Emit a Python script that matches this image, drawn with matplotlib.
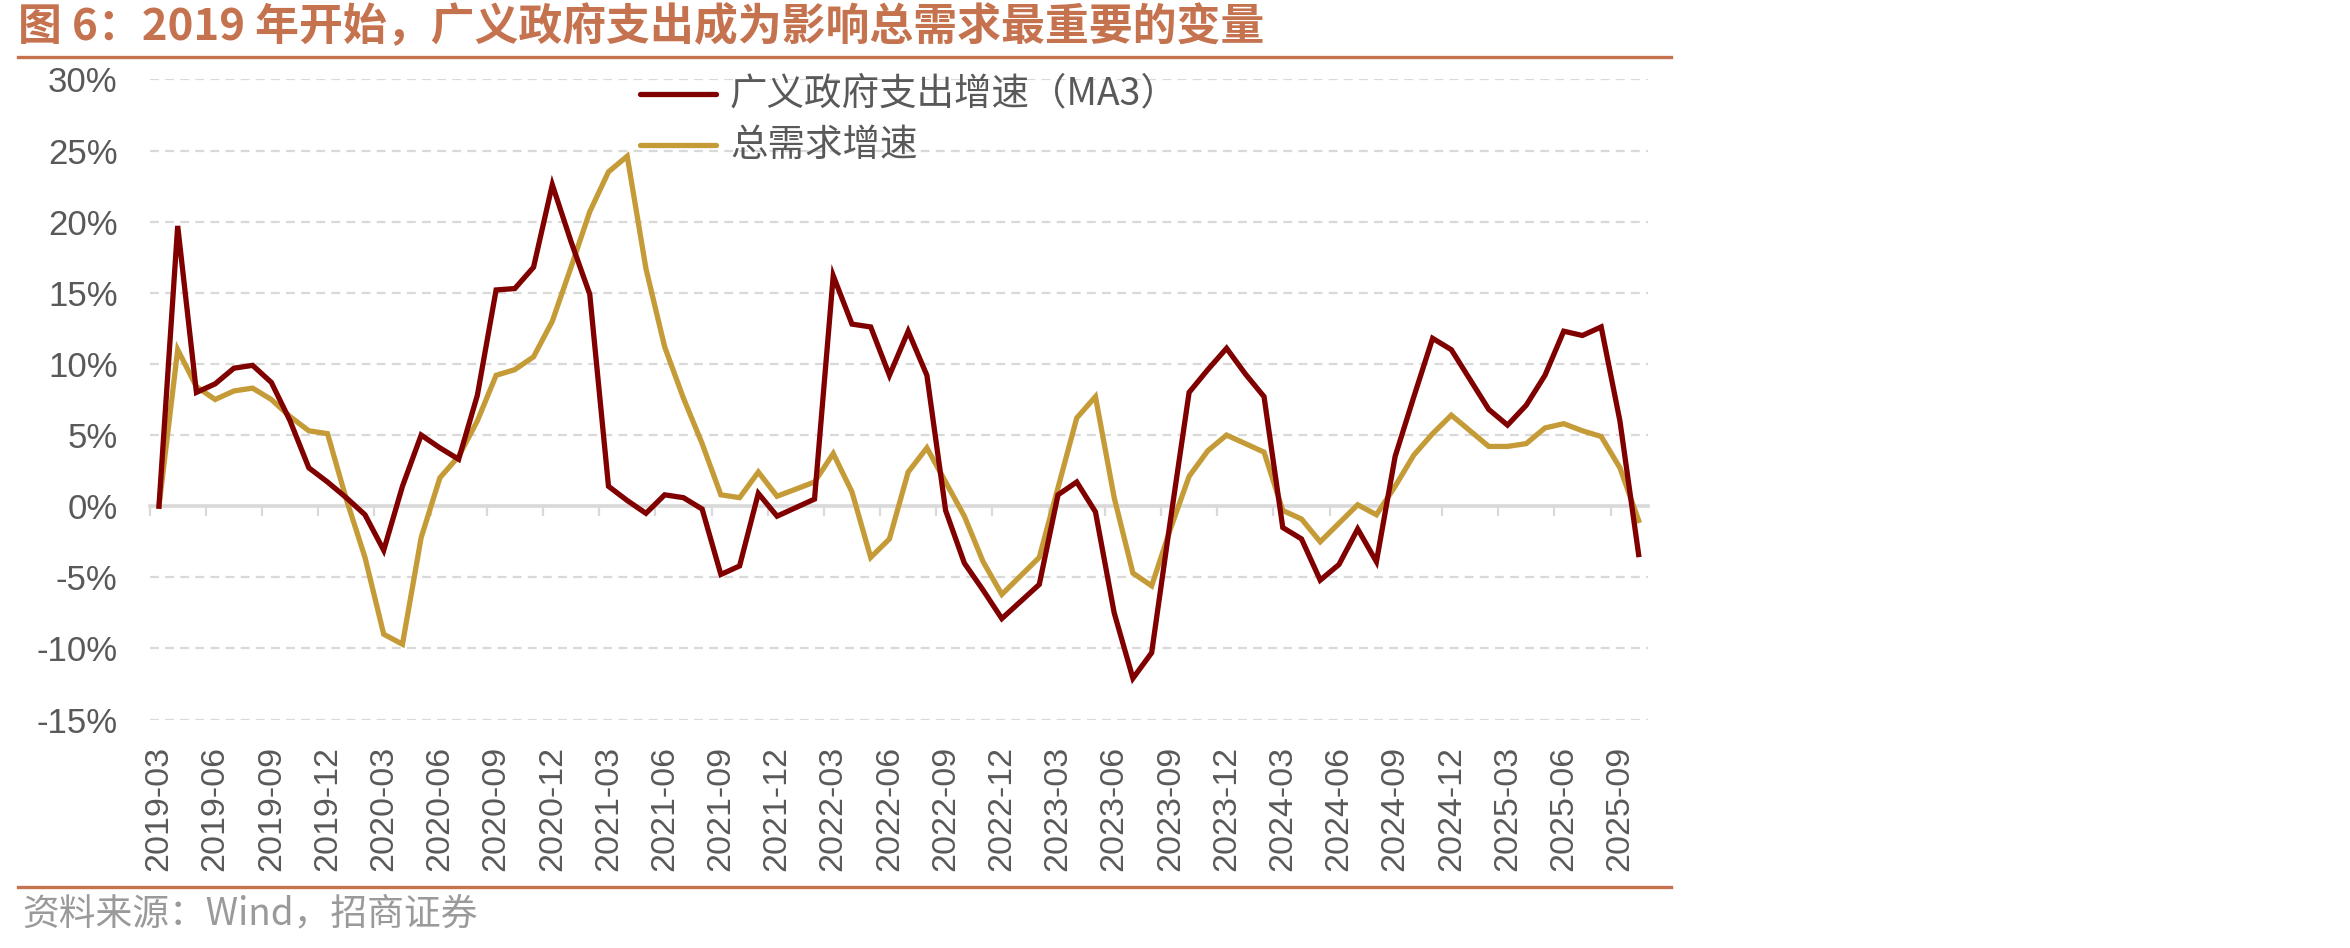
import matplotlib
matplotlib.use("Agg")
import matplotlib.pyplot as plt
from matplotlib.lines import Line2D
import pandas as pd

plt.rcParams['font.family'] = ['Liberation Sans', 'Noto Sans CJK SC', 'DejaVu Sans']

# ---------------- data ----------------
months = pd.date_range('2019-03-01', '2025-10-01', freq='MS').strftime('%Y-%m').tolist()

gov_spending = [
    0.0, 19.7, 8.0, 8.6, 9.7, 9.9, 8.7, 6.0, 2.7, 1.7,
    0.6, -0.6, -3.1, 1.4, 5.0, 4.1, 3.3, 7.8, 15.2, 15.3,
    16.8, 22.6, 18.6, 14.9, 1.4, 0.4, -0.5, 0.8, 0.6, -0.2,
    -4.8, -4.2, 0.9, -0.7, -0.1, 0.5, 16.2, 12.8, 12.6, 9.2,
    12.3, 9.2, -0.3, -4.0, -5.9, -7.9, -6.7, -5.5, 0.8, 1.7,
    -0.4, -7.5, -12.1, -10.3, -1.0, 8.0, 9.6, 11.1, 9.3, 7.7,
    -1.5, -2.3, -5.2, -4.1, -1.6, -3.9, 3.5, 7.7, 11.8, 11.0,
    8.9, 6.8, 5.7, 7.1, 9.2, 12.3, 12.0, 12.6, 6.0, -3.4,
]

total_demand = [
    0.0, 11.0, 8.4, 7.5, 8.1, 8.3, 7.5, 6.3, 5.3, 5.1,
    0.5, -3.6, -9.0, -9.7, -2.2, 2.0, 3.5, 6.0, 9.2, 9.6,
    10.5, 13.0, 16.8, 20.7, 23.5, 24.6, 16.7, 11.2, 7.6, 4.4,
    0.8, 0.6, 2.4, 0.7, 1.2, 1.7, 3.7, 1.0, -3.6, -2.3,
    2.4, 4.1, 1.7, -0.7, -3.9, -6.2, -4.9, -3.6, 1.3, 6.2,
    7.7, 0.6, -4.7, -5.6, -1.6, 2.1, 3.9, 5.0, 4.4, 3.8,
    -0.3, -0.9, -2.5, -1.2, 0.1, -0.6, 1.4, 3.6, 5.1, 6.4,
    5.3, 4.2, 4.2, 4.4, 5.5, 5.8, 5.3, 4.9, 2.7, -1.0,
]

series_names = ['广义政府支出增速（MA3）', '总需求增速']
y_ticks = [30, 25, 20, 15, 10, 5, 0, -5, -10, -15]
y_tick_labels = ['30%', '25%', '20%', '15%', '10%', '5%', '0%', '-5%', '-10%', '-15%']

title = '图 6：2019 年开始，广义政府支出成为影响总需求最重要的变量'
source = '资料来源：Wind，招商证券'

# ---------------- style ----------------
RED = '#800000'
GOLD = '#C49B37'
GRID = '#D9D9D9'
TXT = '#595959'
ACCENT = '#C5724F'
CJK = ['Noto Sans CJK SC', 'DejaVu Sans']

W, H = 2350, 948
fig = plt.figure(figsize=(W / 100, H / 100), dpi=100)

ax_left, ax_right = 149.6, 1648.0
ax_top, ax_bot = 79.4, 719.6
ax = fig.add_axes([ax_left / W, 1 - ax_bot / H, (ax_right - ax_left) / W, (ax_bot - ax_top) / H])

x = list(range(len(months)))
ax.plot(x, gov_spending, color=RED, lw=3.8, solid_joinstyle='miter', zorder=4)
ax.plot(x, total_demand, color=GOLD, lw=3.8, solid_joinstyle='miter', zorder=3)

ax.set_xlim(-0.5, len(months) - 0.5)
ax.set_ylim(-15, 30)

# grid
for yv in y_ticks:
    if yv != 0:
        ax.axhline(yv, color=GRID, lw=1.6, ls=(0, (4, 2.8)), zorder=1)

# spines
for s in ['top', 'right', 'left']:
    ax.spines[s].set_visible(False)
ax.spines['bottom'].set_position(('data', 0))
ax.spines['bottom'].set_color(GRID)
ax.spines['bottom'].set_linewidth(2.6)
ax.spines['bottom'].set_zorder(2)

# boundary tick marks on the zero line
bounds = [i - 0.5 for i in range(0, len(months), 3)]
ax.set_xticks(bounds)
ax.set_xticklabels([''] * len(bounds))
ax.tick_params(axis='x', which='major', length=7.5, width=1.6, color=GRID, direction='out')

# y labels
ax.set_yticks(y_ticks)
ax.set_yticklabels(y_tick_labels)
ax.tick_params(axis='y', length=0, pad=23, labelsize=25, labelcolor=TXT)

# x labels at the bottom
sec = ax.secondary_xaxis('bottom')
sec.spines['bottom'].set_visible(False)
label_pos = list(range(0, len(months), 3))
sec.set_xticks(label_pos)
sec.set_xticklabels([months[i] for i in label_pos], rotation=90, va='top', ha='center')
sec.tick_params(axis='x', length=0, pad=19, labelsize=24.5, labelcolor=TXT)

# legend (manual)
leg_y = [94, 145]
for yy, col, name in zip(leg_y, [RED, GOLD], series_names):
    fig.add_artist(Line2D([640 / W, 716 / W], [1 - yy / H] * 2, color=col, lw=3.8,
                          solid_capstyle='round'))
    fig.text(730 / W, 1 - yy / H, name, ha='left', va='center', fontsize=27,
             color=TXT, family=CJK)

# title and rules
fig.text(18 / W, 1 - 27 / H, title, ha='left', va='center', fontsize=31.6,
         fontweight='bold', color=ACCENT, family=CJK)
fig.add_artist(Line2D([18 / W, 1671 / W], [1 - 57 / H] * 2, color=ACCENT, lw=2.4))
fig.add_artist(Line2D([18 / W, 1671 / W], [1 - 887 / H] * 2, color=ACCENT, lw=2.4))
fig.text(22 / W, 1 - 914 / H, source, ha='left', va='center', fontsize=26.5,
         color='#9A9A9A', family=CJK)

fig.savefig('out.png', dpi=100, facecolor='white')
